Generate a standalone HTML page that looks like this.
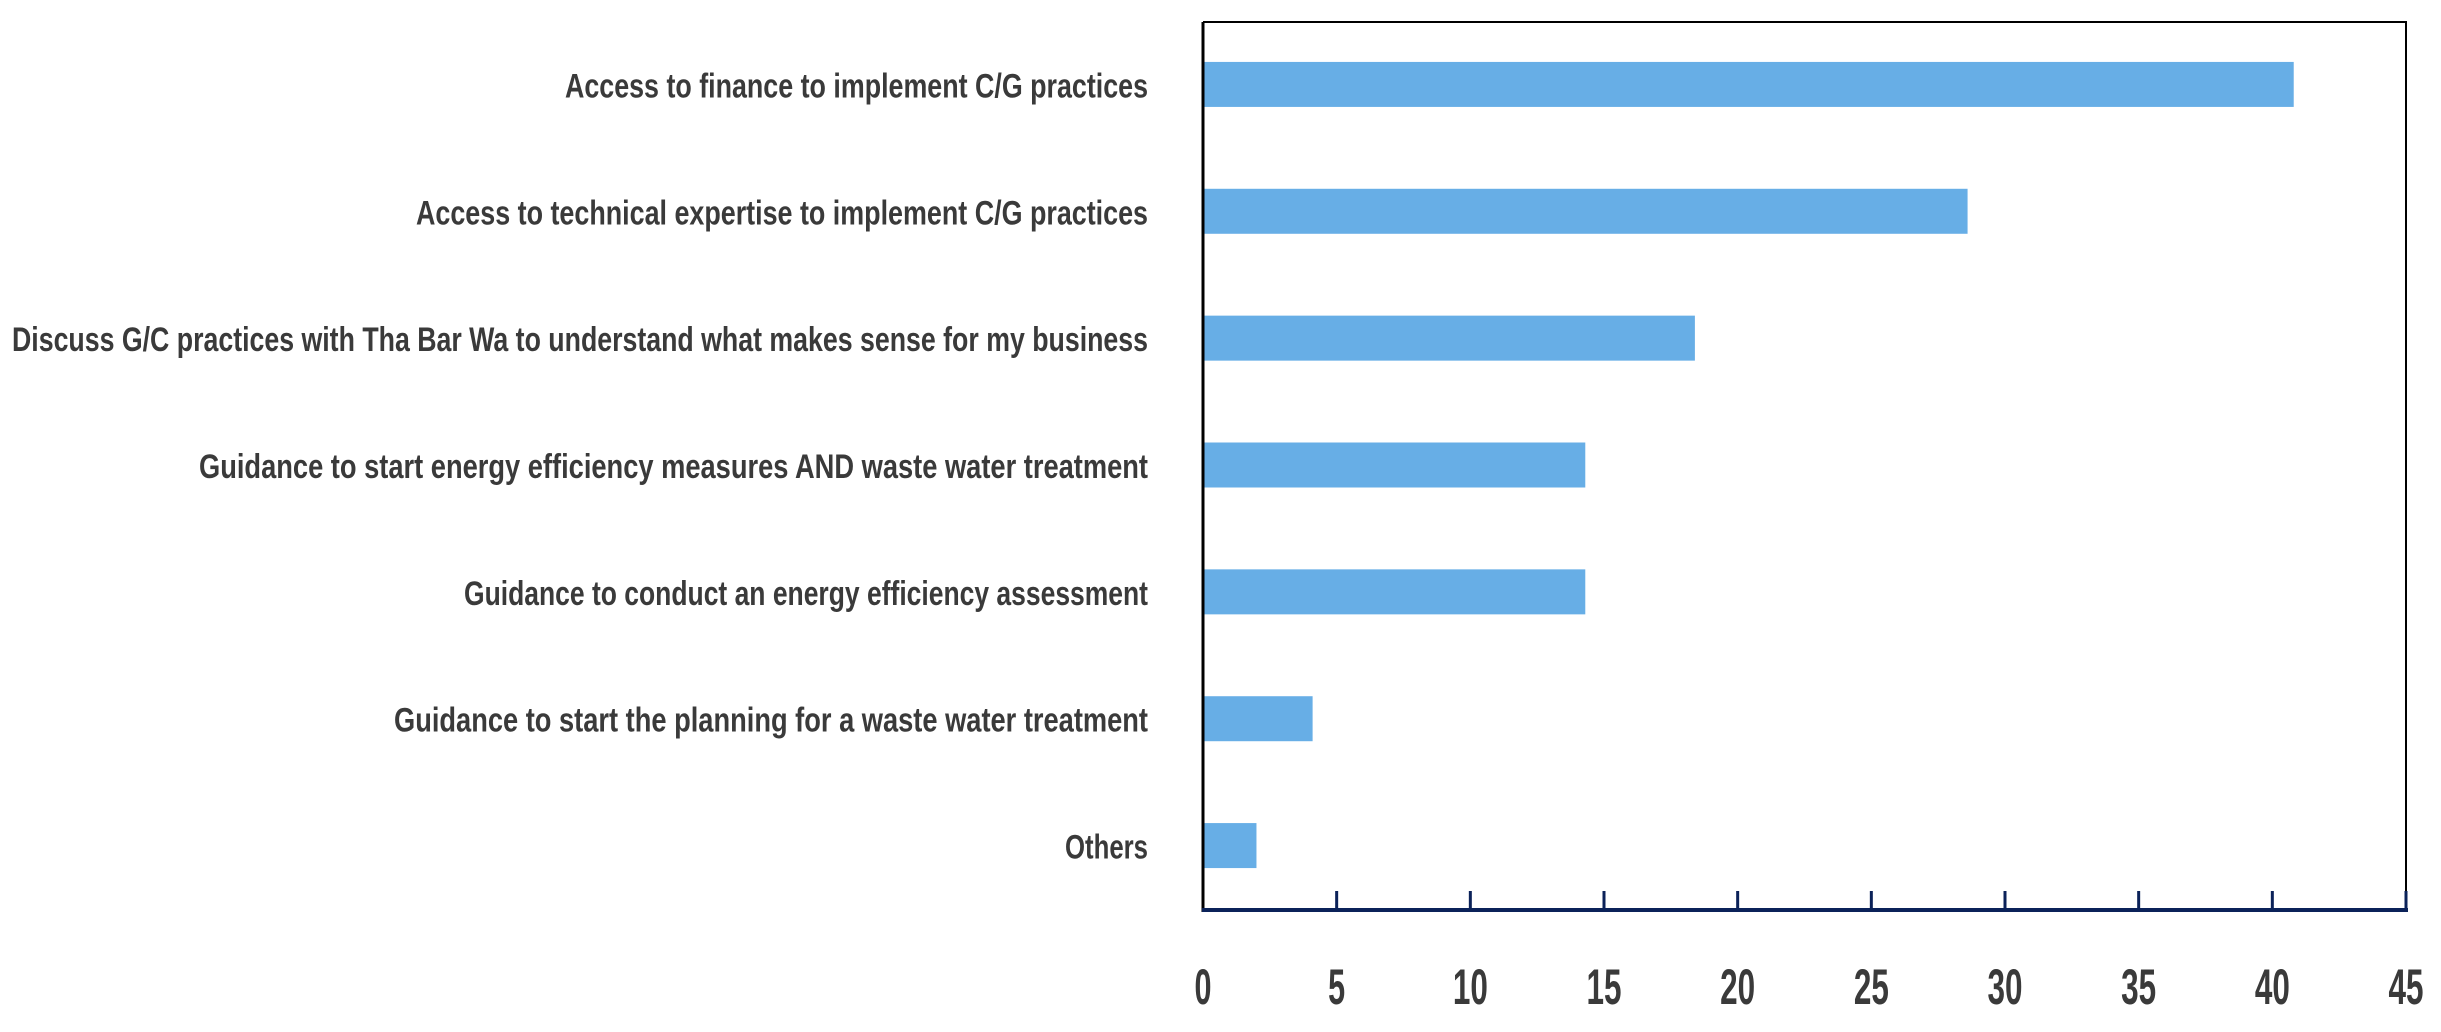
<!DOCTYPE html>
<html><head><meta charset="utf-8"><style>
html,body{margin:0;padding:0;background:#fff;}
svg{display:block;}
text{font-family:"Liberation Sans",sans-serif;font-weight:bold;fill:#3a3a3a;}
</style></head><body>
<svg id="chart" width="2441" height="1032" viewBox="0 0 2441 1032" xmlns="http://www.w3.org/2000/svg">
<rect x="0" y="0" width="2441" height="1032" fill="#fff"/>
<g id="plot"></g>
</svg>
<script>
const categories = ["Access to finance to implement C/G practices","Access to technical expertise to implement C/G practices","Discuss G/C practices with Tha Bar Wa to understand what makes sense for my business","Guidance to start energy efficiency measures AND waste water treatment","Guidance to conduct an energy efficiency assessment ","Guidance to start the planning for a waste water treatment","Others "];
const values = [40.8, 28.6, 18.4, 14.3, 14.3, 4.1, 2.0];
const tickLabels = ["0","5","10","15","20","25","30","35","40","45"];
const tickValues = [0,5,10,15,20,25,30,35,40,45];
const labelWidths = [583, 732, 1136, 949, 684, 754, 83];

const NS = "http://www.w3.org/2000/svg";
const X0 = 1203, X1 = 2406, Y0 = 22, Y1 = 910, XMAX = 45;
const xs = v => X0 + (v / XMAX) * (X1 - X0);
const band = (Y1 - Y0) / categories.length;
const yc = i => Y0 + band * (i + 0.5);
const g = document.getElementById('plot');
function mk(tag, attrs){const e=document.createElementNS(NS,tag);for(const k in attrs)e.setAttribute(k,attrs[k]);g.appendChild(e);return e;}

// frame top/right
const fr = mk('path',{d:`M${X0} ${Y0} H${X1} V${Y1}`,fill:'none',stroke:'#000','stroke-width':2});



categories.forEach((c,i)=>{
  const h = 45;
  const r = mk('rect',{x:X0,y:yc(i)-h/2-1,width:xs(values[i])-X0,height:h,fill:'#67aee6'});
  
  
  const t = mk('text',{x:1148,y:yc(i)+12,'text-anchor':'end','font-size':34,textLength:labelWidths[i],lengthAdjust:'spacingAndGlyphs'});
  t.textContent = c;
  
  
});

// axes
const la = mk('line',{x1:X0,y1:Y0,x2:X0,y2:Y1+2,stroke:'#000','stroke-width':3});


const ba = mk('line',{x1:X0-1,y1:Y1,x2:X1+2,y2:Y1,stroke:'#0b2259','stroke-width':4});



tickValues.forEach((v,i)=>{
  if(v>0){
    const tk = mk('line',{x1:xs(v),y1:Y1-19,x2:xs(v),y2:Y1,stroke:'#0b2259','stroke-width':3});
    
    
  }
  const s = tickLabels[i];
  const t = mk('text',{x:xs(v),y:1004,'text-anchor':'middle','font-size':50,textLength:s.length>1?35:17,lengthAdjust:'spacingAndGlyphs'});
  t.textContent = s;
  
  
});
</script>
</body></html>
